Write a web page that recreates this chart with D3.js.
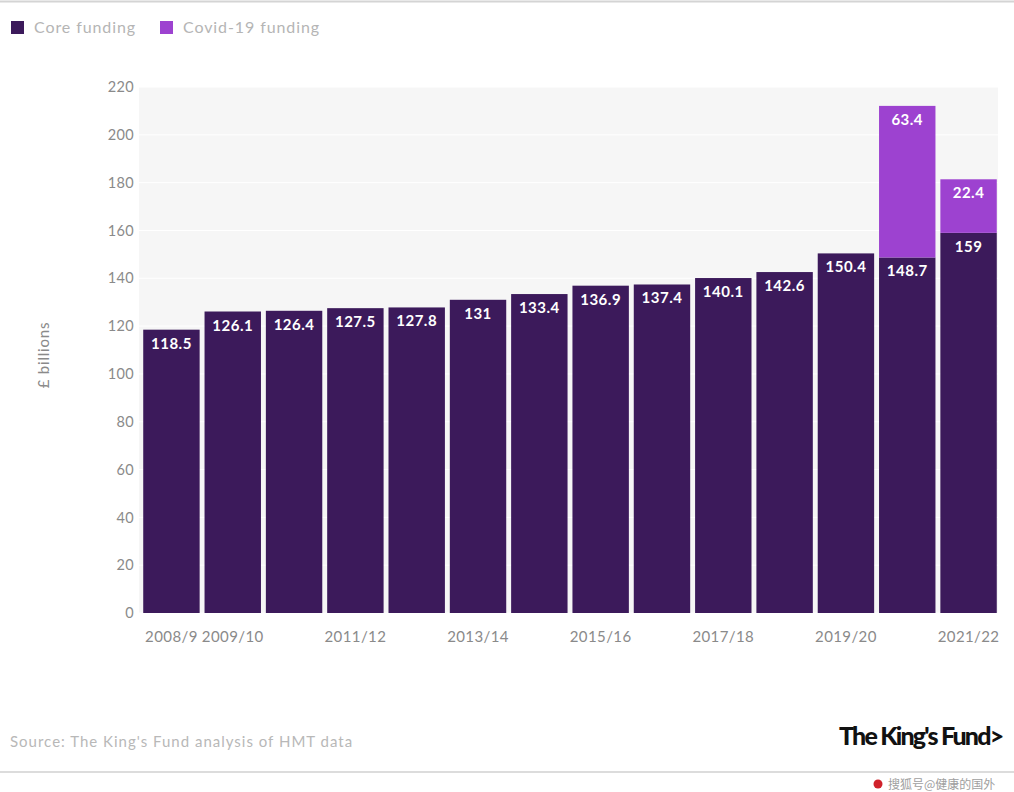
<!DOCTYPE html>
<html>
<head>
<meta charset="utf-8">
<script src="https://cdn.jsdelivr.net/npm/d3@7"></script>
<style>
  html, body { margin: 0; padding: 0; background: #fff; }
  svg { display: block; font-family: Lato, "Open Sans", sans-serif; }
</style>
</head>
<body>
<svg id="chart" width="1014" height="792"></svg>
<script>
// NHS funding, £ billions
const years = ["2008/9", "2009/10", "2010/11", "2011/12", "2012/13", "2013/14", "2014/15",
               "2015/16", "2016/17", "2017/18", "2018/19", "2019/20", "2020/21", "2021/22"];
const coreFunding = [118.5, 126.1, 126.4, 127.5, 127.8, 131, 133.4, 136.9, 137.4, 140.1, 142.6, 150.4, 148.7, 159];
const covidFunding = [0, 0, 0, 0, 0, 0, 0, 0, 0, 0, 0, 0, 63.4, 22.4];
const yTicks = [0, 20, 40, 60, 80, 100, 120, 140, 160, 180, 200, 220];
const xTickLabels = ["2008/9", "2009/10", "2011/12", "2013/14", "2015/16", "2017/18", "2019/20", "2021/22"];
const seriesNames = ["Core funding", "Covid-19 funding"];
const colors = ["#3c1a5b", "#9d42d0"];

const svg = d3.select("#chart");
const W = 1014;
const plot = { left: 139, right: 998, top: 87, bottom: 613 };

const x = d3.scaleBand().domain(years).range([142, 998]).paddingInner(0.08).paddingOuter(0.02);
const y = d3.scaleLinear().domain([0, 220]).range([plot.bottom, plot.top]);

// top rule
svg.append("line").attr("x1", 0).attr("x2", W).attr("y1", 1.5).attr("y2", 1.5)
  .attr("stroke", "#d4d4d4").attr("stroke-width", 2);

// legend
const legend = svg.append("g");
const legendX = [11, 160];
seriesNames.forEach((name, i) => {
  legend.append("rect").attr("x", legendX[i]).attr("y", 21).attr("width", 13).attr("height", 13)
    .attr("fill", colors[i]);
  legend.append("text").attr("x", legendX[i] + 23).attr("y", 33)
    .attr("font-size", 16).attr("letter-spacing", 0.9).attr("fill", "#b5b5b5").text(name);
});

// plot background
svg.append("rect").attr("x", plot.left).attr("y", plot.top)
  .attr("width", plot.right - plot.left).attr("height", plot.bottom - plot.top)
  .attr("fill", "#f6f6f6");

// gridlines
svg.append("g").selectAll("line").data(yTicks).join("line")
  .attr("x1", plot.left).attr("x2", plot.right)
  .attr("y1", d => y(d)).attr("y2", d => y(d))
  .attr("stroke", "#ffffff").attr("stroke-width", 1);

// y axis
const yAxis = svg.append("g").attr("transform", `translate(${plot.left - 5},0)`)
  .call(d3.axisLeft(y).tickValues(yTicks).tickSize(0).tickPadding(0));
yAxis.select(".domain").remove();
yAxis.selectAll("text").attr("font-size", 14.5).attr("letter-spacing", 0.3).attr("fill", "#8a8a8a")
  .attr("font-family", "Lato, sans-serif");

svg.append("text")
  .attr("transform", `translate(49,${(plot.top + plot.bottom) / 2 + 5}) rotate(-90)`)
  .attr("text-anchor", "middle").attr("font-size", 15).attr("letter-spacing", 0.8).attr("fill", "#8a8a8a")
  .text("£ billions");

// x axis
const xAxis = svg.append("g").attr("transform", `translate(0,${plot.bottom})`)
  .call(d3.axisBottom(x).tickValues(xTickLabels).tickSize(0).tickPadding(0));
xAxis.select(".domain").remove();
xAxis.selectAll("text").attr("font-size", 15).attr("letter-spacing", 0.4).attr("fill", "#8a8a8a")
  .attr("font-family", "Lato, sans-serif").attr("y", 29).attr("dy", 0);

// stacked bars
const rows = years.map((yr, i) => ({ year: yr, core: coreFunding[i], covid: covidFunding[i] }));
const stack = d3.stack().keys(["core", "covid"])(rows);

const layers = svg.append("g").selectAll("g").data(stack).join("g")
  .attr("fill", (d, i) => colors[i]);

layers.selectAll("rect").data(d => d.filter(s => s[1] - s[0] > 0)).join("rect")
  .attr("x", d => x(d.data.year))
  .attr("width", x.bandwidth())
  .attr("y", d => y(d[1]))
  .attr("height", d => y(d[0]) - y(d[1]));

// value labels inside the top of each segment
layers.selectAll("text").data(d => d.filter(s => s[1] - s[0] > 0)).join("text")
  .attr("x", d => x(d.data.year) + x.bandwidth() / 2)
  .attr("y", d => y(d[1]) + 19)
  .attr("text-anchor", "middle")
  .attr("font-size", 15).attr("font-weight", 700).attr("letter-spacing", 0.5)
  .attr("fill", "#ffffff")
  .text(d => d3.format("~")(+(d[1] - d[0]).toFixed(1)));

// source
svg.append("text").attr("x", 10).attr("y", 747)
  .attr("font-size", 15).attr("letter-spacing", 1).attr("fill", "#b8b8b8")
  .text("Source: The King's Fund analysis of HMT data");

// brand mark
svg.append("text").attr("x", 839).attr("y", 745)
  .attr("font-size", 25).attr("font-weight", 900).attr("fill", "#111")
  .attr("letter-spacing", -1.8)
  .text("The King's Fund>");

// bottom rule
svg.append("line").attr("x1", 0).attr("x2", W).attr("y1", 772).attr("y2", 772)
  .attr("stroke", "#dcdcdc").attr("stroke-width", 2);

// watermark
svg.append("circle").attr("cx", 878).attr("cy", 784).attr("r", 4.5).attr("fill", "#d0222b");
svg.append("text").attr("x", 888).attr("y", 789)
  .attr("font-size", 12).attr("fill", "#a0a0a0")
  .attr("font-family", "'Noto Sans CJK SC', sans-serif")
  .text("搜狐号@健康的国外");
</script>
</body>
</html>
